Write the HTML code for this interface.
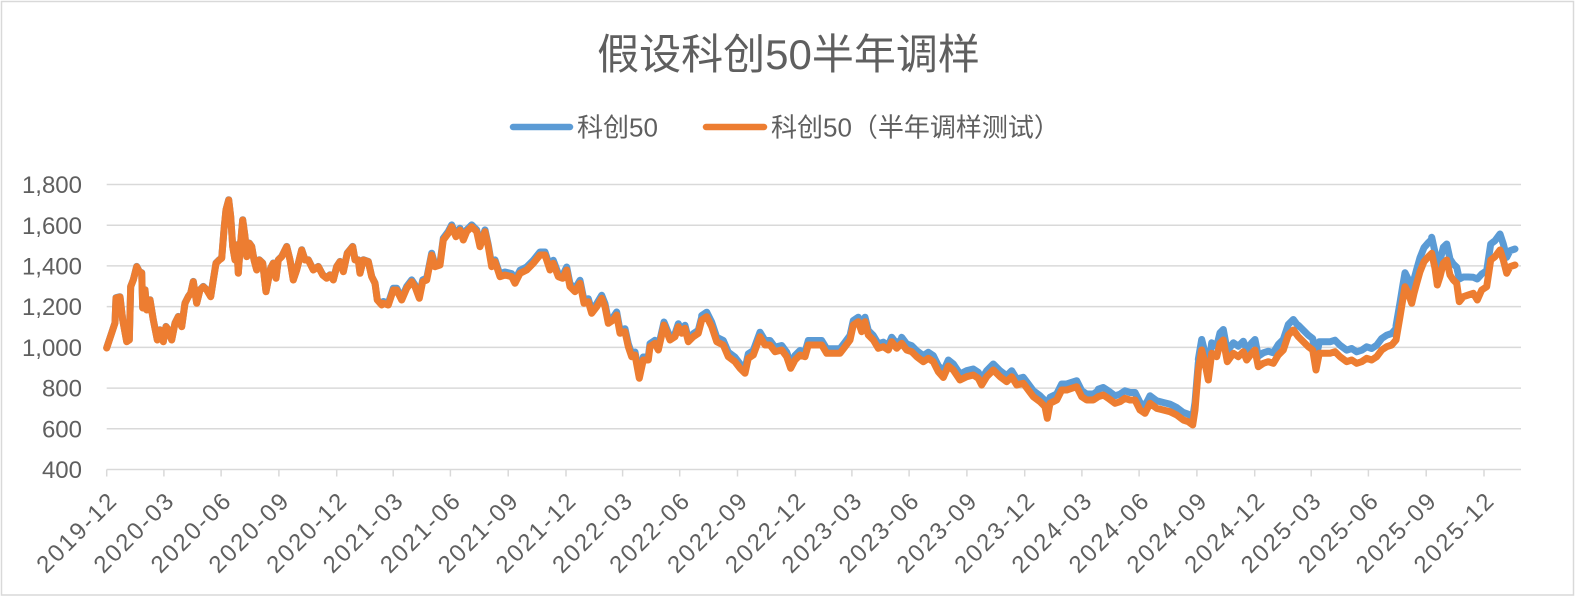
<!DOCTYPE html>
<html>
<head>
<meta charset="utf-8">
<style>
html,body{margin:0;padding:0;background:#fff;}
svg{display:block;}
text{font-family:"Liberation Sans","Noto Sans CJK SC",sans-serif;fill:#5f5f5f;}
</style>
</head>
<body>
<svg width="1576" height="597" viewBox="0 0 1576 597" xmlns="http://www.w3.org/2000/svg">
<rect x="0" y="0" width="1576" height="597" fill="#fff"/>
<rect x="1.5" y="1.5" width="1572" height="593.5" fill="none" stroke="#D9D9D9" stroke-width="1.5"/>

<!-- title -->
<text x="788.5" y="69" font-size="42" text-anchor="middle">假设科创50半年调样</text>

<!-- legend -->
<line x1="513" y1="127" x2="570" y2="127" stroke="#5B9BD5" stroke-width="6.5" stroke-linecap="round"/>
<text x="577" y="136.5" font-size="26">科创50</text>
<line x1="706" y1="127" x2="764" y2="127" stroke="#ED7D31" stroke-width="6.5" stroke-linecap="round"/>
<text x="771" y="136.5" font-size="26">科创50（半年调样测试）</text>

<!-- gridlines -->
<g stroke="#D9D9D9" stroke-width="1.5">
<line x1="106.7" y1="184.5" x2="1521" y2="184.5"/>
<line x1="106.7" y1="225.2" x2="1521" y2="225.2"/>
<line x1="106.7" y1="265.9" x2="1521" y2="265.9"/>
<line x1="106.7" y1="306.6" x2="1521" y2="306.6"/>
<line x1="106.7" y1="347.4" x2="1521" y2="347.4"/>
<line x1="106.7" y1="388.1" x2="1521" y2="388.1"/>
<line x1="106.7" y1="428.8" x2="1521" y2="428.8"/>
<line x1="106.7" y1="469.5" x2="1521" y2="469.5"/>
</g>
<!-- ticks -->
<g stroke="#D9D9D9" stroke-width="1.5">
<line x1="106.7" y1="469.5" x2="106.7" y2="476.5"/>
<line x1="163.9" y1="469.5" x2="163.9" y2="476.5"/>
<line x1="221.1" y1="469.5" x2="221.1" y2="476.5"/>
<line x1="278.9" y1="469.5" x2="278.9" y2="476.5"/>
<line x1="336.7" y1="469.5" x2="336.7" y2="476.5"/>
<line x1="393.2" y1="469.5" x2="393.2" y2="476.5"/>
<line x1="450.4" y1="469.5" x2="450.4" y2="476.5"/>
<line x1="508.2" y1="469.5" x2="508.2" y2="476.5"/>
<line x1="566" y1="469.5" x2="566" y2="476.5"/>
<line x1="622.6" y1="469.5" x2="622.6" y2="476.5"/>
<line x1="679.7" y1="469.5" x2="679.7" y2="476.5"/>
<line x1="737.5" y1="469.5" x2="737.5" y2="476.5"/>
<line x1="795.4" y1="469.5" x2="795.4" y2="476.5"/>
<line x1="851.9" y1="469.5" x2="851.9" y2="476.5"/>
<line x1="909.1" y1="469.5" x2="909.1" y2="476.5"/>
<line x1="966.9" y1="469.5" x2="966.9" y2="476.5"/>
<line x1="1024.7" y1="469.5" x2="1024.7" y2="476.5"/>
<line x1="1081.9" y1="469.5" x2="1081.9" y2="476.5"/>
<line x1="1139.1" y1="469.5" x2="1139.1" y2="476.5"/>
<line x1="1196.9" y1="469.5" x2="1196.9" y2="476.5"/>
<line x1="1254.7" y1="469.5" x2="1254.7" y2="476.5"/>
<line x1="1311.2" y1="469.5" x2="1311.2" y2="476.5"/>
<line x1="1368.4" y1="469.5" x2="1368.4" y2="476.5"/>
<line x1="1426.2" y1="469.5" x2="1426.2" y2="476.5"/>
<line x1="1484" y1="469.5" x2="1484" y2="476.5"/>
</g>

<!-- y labels -->
<g font-size="24" text-anchor="end">
<text x="82" y="193.1">1,800</text>
<text x="82" y="233.8">1,600</text>
<text x="82" y="274.5">1,400</text>
<text x="82" y="315.2">1,200</text>
<text x="82" y="356">1,000</text>
<text x="82" y="396.7">800</text>
<text x="82" y="437.4">600</text>
<text x="82" y="478.1">400</text>
</g>

<!-- x labels -->
<g font-size="24" text-anchor="end">
<text transform="translate(117.7,503) rotate(-45)" textLength="101" lengthAdjust="spacing">2019-12</text>
<text transform="translate(174.9,503) rotate(-45)" textLength="101" lengthAdjust="spacing">2020-03</text>
<text transform="translate(232.1,503) rotate(-45)" textLength="101" lengthAdjust="spacing">2020-06</text>
<text transform="translate(289.9,503) rotate(-45)" textLength="101" lengthAdjust="spacing">2020-09</text>
<text transform="translate(347.7,503) rotate(-45)" textLength="101" lengthAdjust="spacing">2020-12</text>
<text transform="translate(404.2,503) rotate(-45)" textLength="101" lengthAdjust="spacing">2021-03</text>
<text transform="translate(461.4,503) rotate(-45)" textLength="101" lengthAdjust="spacing">2021-06</text>
<text transform="translate(519.2,503) rotate(-45)" textLength="101" lengthAdjust="spacing">2021-09</text>
<text transform="translate(577,503) rotate(-45)" textLength="101" lengthAdjust="spacing">2021-12</text>
<text transform="translate(633.6,503) rotate(-45)" textLength="101" lengthAdjust="spacing">2022-03</text>
<text transform="translate(690.7,503) rotate(-45)" textLength="101" lengthAdjust="spacing">2022-06</text>
<text transform="translate(748.5,503) rotate(-45)" textLength="101" lengthAdjust="spacing">2022-09</text>
<text transform="translate(806.4,503) rotate(-45)" textLength="101" lengthAdjust="spacing">2022-12</text>
<text transform="translate(862.9,503) rotate(-45)" textLength="101" lengthAdjust="spacing">2023-03</text>
<text transform="translate(920.1,503) rotate(-45)" textLength="101" lengthAdjust="spacing">2023-06</text>
<text transform="translate(977.9,503) rotate(-45)" textLength="101" lengthAdjust="spacing">2023-09</text>
<text transform="translate(1035.7,503) rotate(-45)" textLength="101" lengthAdjust="spacing">2023-12</text>
<text transform="translate(1092.9,503) rotate(-45)" textLength="101" lengthAdjust="spacing">2024-03</text>
<text transform="translate(1150.1,503) rotate(-45)" textLength="101" lengthAdjust="spacing">2024-06</text>
<text transform="translate(1207.9,503) rotate(-45)" textLength="101" lengthAdjust="spacing">2024-09</text>
<text transform="translate(1265.7,503) rotate(-45)" textLength="101" lengthAdjust="spacing">2024-12</text>
<text transform="translate(1322.2,503) rotate(-45)" textLength="101" lengthAdjust="spacing">2025-03</text>
<text transform="translate(1379.4,503) rotate(-45)" textLength="101" lengthAdjust="spacing">2025-06</text>
<text transform="translate(1437.2,503) rotate(-45)" textLength="101" lengthAdjust="spacing">2025-09</text>
<text transform="translate(1495,503) rotate(-45)" textLength="101" lengthAdjust="spacing">2025-12</text>
</g>

<!-- blue series (科创50) -->
<g fill="none" stroke="#5B9BD5" stroke-width="7" stroke-linejoin="round" stroke-linecap="round">
<polyline transform="translate(0,-0.3)" points="106.7,348 111.7,333 115,323 116,298 120,297 122.7,320 126.7,341.7 129.3,340 130.7,286.7 133.3,280 136.7,266.7 139.3,271.7 141.7,273 142.7,308 145,290 146.7,310 150,300 153.3,320 157.3,340 160,330 163.3,341.7 166,326.7 168.3,330 171.7,340 175,323.3 178.3,316.7 181.7,326.7 185,303.3 188.3,296.7 190.7,293.3 193.3,281.7 196.7,303.3 200,290 203.3,286.7 206.7,290 210.7,296.7 213.3,280 216,263.3 219.3,260 221.7,258.3 224,230 226,210 228.7,200 230.7,216.7 232.7,246.7 235,260 236.7,245 238.3,273.3 240,250 242.7,220 245,236.7 246.7,256.7 249.3,243.3 251.7,246.7 254,260 256.7,270 259.3,260 262.7,263.3 266,291.7 268.3,280 270.7,268.3 273.3,263.3 276,278.3 278.3,260 281.7,256.7 286.7,246.7 290,260 293.3,280 296.7,270 301.7,250 305,260 308.3,260 313.3,270 318.3,266.7 322.7,275 326.7,278.3 330,275 333.3,280 336.7,266.7 340,261.7 343.3,271.7 347.3,253.3 350,250 352.7,246.7 355,260 358.3,260 360,273.3 363.3,260 368.3,261.7 371.7,276.7 375,283.3 377.3,300 381.7,305"/>
<polyline transform="translate(0,-1.8)" points="381.7,305 383.3,303.3 388.3,305 393.3,290 396.7,290 401.7,300 406.7,288.3 411.7,281.7 415,286.7 419.3,298.3 422.7,281.7 426.7,280 431.7,255 435,266.7 440,265 443.3,240 448.3,233.3 451.7,226.7 456,236.7 460,230 463.3,240 466.7,231.7 471.7,226.7 476.7,231.7 480,246.7 485,231.7 488.3,246.7 491.7,266.7 495,261.7 500,276.7"/>
<polyline transform="translate(0,-3)" points="500,276.7 505,275 511.7,276.7 515,283.3 520,273.3 526.7,270 533.3,263.3 540,255 545,255 550,270 553.3,263.3 558.3,276.7 562.7,278.3 566.7,270 570,286.7 575,291.7 580,283.3 584,303.3 588.3,301.7 591.7,313.3 596.7,306.7 601.7,298.3 605,306.7 608.3,323.3 613.3,320 616.7,315 620,333.3 625,331.7 628.3,346.7 631.7,356.7 635,355 639.3,378.3 643.3,360 648.3,360 650,346.7 655,343.3 658.3,350 664,325 670,340 675,336.7 678.3,326.7 681.7,333.3 685,328.3 688.3,341.7 693.3,336.7 698.3,333.3 701.7,320"/>
<polyline transform="translate(0,-4.5)" points="701.7,320 706.7,316.7 711.7,326.7 716.7,341.7 723.3,345 728.3,356.7 735,361.7 740,368.3 745,373.3 748.3,358.3 753.3,355 760,336.7 765,345 770,345 775,351.7 781.7,350 786.7,356.7 790.7,368.3 795,360 800,355 805,356.7 808.3,345 816.7,345 821.7,345 826.7,353.3 833.3,353.3 840,353.3 845,346.7 850,340 853.3,325 858.3,321.7 861.7,331.7 865,321.7 868.3,335 873.3,340 878.3,348.3 883.3,346.7 888.3,350 891.7,341.7 896.7,348.3 901.7,343.3"/>
<polyline transform="translate(0,-6)" points="901.7,343.3 906.7,350 911.7,351.7 916.7,356.7 923.3,361.7 928.3,358.3 933.3,361.7 938.3,371.7 943.3,377.5 948.3,366 953.3,370 960,380 966.7,376.7 973.3,375 978.3,378.3 981.7,385 986.7,376.7 993.3,370 1000,376.7 1006.7,381.7 1011.7,376.7 1016.7,385 1023.3,383.3 1028.3,390 1033.3,396.7 1040,401.7 1045,406.7 1047.3,418.3 1050,403.3 1056.7,400 1061.7,390 1066.7,390 1071.7,388.3 1076.7,386.7 1081.7,396.7 1086.7,400 1093.3,400 1098.3,396.7"/>
<polyline transform="translate(0,-7.5)" points="1098.3,396.7 1103.3,395 1108.3,398.3 1115,403.3 1120,401.7 1125,398.3 1130,400 1135,400 1140,410 1145,413.3 1150,403.3 1156.7,408.3 1163.3,410 1170,411.7 1176.7,415 1183.3,420 1188.3,421.7 1192.7,425 1195,410 1198.3,370"/>
<polyline transform="translate(0,-10.5)" points="1198.3,370 1201.7,350 1205,363.3 1208.3,380 1211.7,353.3 1216.7,356.7 1220,343.3 1223.3,340 1227.3,361.7 1233.3,353.3 1238.3,356.7 1243.3,351.7 1246.7,360 1251.7,353.3 1255,350 1258.3,366.7 1263.3,363.3 1268.3,361.7 1273.3,363.3 1278.3,355 1283.3,350 1288.3,335 1293.3,330 1298.3,336.7"/>
<polyline transform="translate(0,-11.5)" points="1298.3,336.7 1303.3,341.7 1308.3,346.7 1312.7,350 1316,370 1319.3,353.3 1325,353.3 1330,353.3 1335,351.7 1340,356.7 1346.7,361.7 1351.7,360 1356.7,363.3 1361.7,361.7 1366.7,358.3 1371.7,360 1376.7,356.7 1381.7,350 1386.7,346.7 1391.7,345 1396,340"/>
<polyline transform="translate(0,-14)" points="1396,340 1400,316.7 1402.7,300 1405,286.7 1408.3,293.3 1411.7,303.3 1414,293.3 1416.7,283.3 1420,271.7 1424,261.7 1428.3,256.7 1431.7,253.3"/>
<polyline transform="translate(0,-16)" points="1431.7,253.3 1435,268.3 1437.3,285 1440,276.7 1443.3,263.3 1446.7,260 1450,275 1453.3,280 1456.7,283.3 1459.3,295 1463.3,293 1468.3,293 1473.3,293.3 1477.3,295 1481.7,290 1486.7,286.7 1490.7,260 1495,256.7 1500,250 1503.3,260 1506.7,273.3 1510,266.7 1515,265"/>
</g>

<!-- orange series (半年调样测试) -->
<polyline fill="none" stroke="#ED7D31" stroke-width="7" stroke-linejoin="round" stroke-linecap="round" points="106.7,348 111.7,333 115,323 116,298 120,297 122.7,320 126.7,341.7 129.3,340 130.7,286.7 133.3,280 136.7,266.7 139.3,271.7 141.7,273 142.7,308 145,290 146.7,310 150,300 153.3,320 157.3,340 160,330 163.3,341.7 166,326.7 168.3,330 171.7,340 175,323.3 178.3,316.7 181.7,326.7 185,303.3 188.3,296.7 190.7,293.3 193.3,281.7 196.7,303.3 200,290 203.3,286.7 206.7,290 210.7,296.7 213.3,280 216,263.3 219.3,260 221.7,258.3 224,230 226,210 228.7,200 230.7,216.7 232.7,246.7 235,260 236.7,245 238.3,273.3 240,250 242.7,220 245,236.7 246.7,256.7 249.3,243.3 251.7,246.7 254,260 256.7,270 259.3,260 262.7,263.3 266,291.7 268.3,280 270.7,268.3 273.3,263.3 276,278.3 278.3,260 281.7,256.7 286.7,246.7 290,260 293.3,280 296.7,270 301.7,250 305,260 308.3,260 313.3,270 318.3,266.7 322.7,275 326.7,278.3 330,275 333.3,280 336.7,266.7 340,261.7 343.3,271.7 347.3,253.3 350,250 352.7,246.7 355,260 358.3,260 360,273.3 363.3,260 368.3,261.7 371.7,276.7 375,283.3 377.3,300 381.7,305 383.3,303.3 388.3,305 393.3,290 396.7,290 401.7,300 406.7,288.3 411.7,281.7 415,286.7 419.3,298.3 422.7,281.7 426.7,280 431.7,255 435,266.7 440,265 443.3,240 448.3,233.3 451.7,226.7 456,236.7 460,230 463.3,240 466.7,231.7 471.7,226.7 476.7,231.7 480,246.7 485,231.7 488.3,246.7 491.7,266.7 495,261.7 500,276.7 505,275 511.7,276.7 515,283.3 520,273.3 526.7,270 533.3,263.3 540,255 545,255 550,270 553.3,263.3 558.3,276.7 562.7,278.3 566.7,270 570,286.7 575,291.7 580,283.3 584,303.3 588.3,301.7 591.7,313.3 596.7,306.7 601.7,298.3 605,306.7 608.3,323.3 613.3,320 616.7,315 620,333.3 625,331.7 628.3,346.7 631.7,356.7 635,355 639.3,378.3 643.3,360 648.3,360 650,346.7 655,343.3 658.3,350 664,325 670,340 675,336.7 678.3,326.7 681.7,333.3 685,328.3 688.3,341.7 693.3,336.7 698.3,333.3 701.7,320 706.7,316.7 711.7,326.7 716.7,341.7 723.3,345 728.3,356.7 735,361.7 740,368.3 745,373.3 748.3,358.3 753.3,355 760,336.7 765,345 770,345 775,351.7 781.7,350 786.7,356.7 790.7,368.3 795,360 800,355 805,356.7 808.3,345 816.7,345 821.7,345 826.7,353.3 833.3,353.3 840,353.3 845,346.7 850,340 853.3,325 858.3,321.7 861.7,331.7 865,321.7 868.3,335 873.3,340 878.3,348.3 883.3,346.7 888.3,350 891.7,341.7 896.7,348.3 901.7,343.3 906.7,350 911.7,351.7 916.7,356.7 923.3,361.7 928.3,358.3 933.3,361.7 938.3,371.7 943.3,377.5 948.3,366 953.3,370 960,380 966.7,376.7 973.3,375 978.3,378.3 981.7,385 986.7,376.7 993.3,370 1000,376.7 1006.7,381.7 1011.7,376.7 1016.7,385 1023.3,383.3 1028.3,390 1033.3,396.7 1040,401.7 1045,406.7 1047.3,418.3 1050,403.3 1056.7,400 1061.7,390 1066.7,390 1071.7,388.3 1076.7,386.7 1081.7,396.7 1086.7,400 1093.3,400 1098.3,396.7 1103.3,395 1108.3,398.3 1115,403.3 1120,401.7 1125,398.3 1130,400 1135,400 1140,410 1145,413.3 1150,403.3 1156.7,408.3 1163.3,410 1170,411.7 1176.7,415 1183.3,420 1188.3,421.7 1192.7,425 1195,410 1198.3,370 1201.7,350 1205,363.3 1208.3,380 1211.7,353.3 1216.7,356.7 1220,343.3 1223.3,340 1227.3,361.7 1233.3,353.3 1238.3,356.7 1243.3,351.7 1246.7,360 1251.7,353.3 1255,350 1258.3,366.7 1263.3,363.3 1268.3,361.7 1273.3,363.3 1278.3,355 1283.3,350 1288.3,335 1293.3,330 1298.3,336.7 1303.3,341.7 1308.3,346.7 1312.7,350 1316,370 1319.3,353.3 1325,353.3 1330,353.3 1335,351.7 1340,356.7 1346.7,361.7 1351.7,360 1356.7,363.3 1361.7,361.7 1366.7,358.3 1371.7,360 1376.7,356.7 1381.7,350 1386.7,346.7 1391.7,345 1396,340 1400,316.7 1402.7,300 1405,286.7 1408.3,293.3 1411.7,303.3 1414,293.3 1416.7,283.3 1420,271.7 1424,261.7 1428.3,256.7 1431.7,253.3 1435,268.3 1437.3,285 1440,276.7 1443.3,263.3 1446.7,260 1450,275 1453.3,280 1456.7,283.3 1459.3,301.7 1463.3,296.7 1468.3,295 1473.3,293.3 1477.3,300 1481.7,290 1486.7,286.7 1490.7,260 1495,256.7 1500,250 1503.3,260 1506.7,273.3 1510,266.7 1515,265"/>
</svg>
</body>
</html>
